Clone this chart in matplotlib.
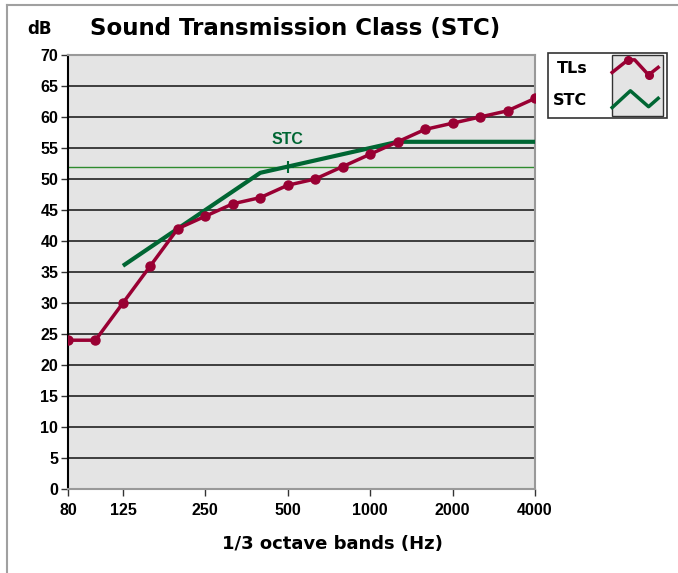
import numpy as np
import matplotlib
matplotlib.use("Agg")
import matplotlib.pyplot as plt
from matplotlib.lines import Line2D
from matplotlib.patches import Rectangle
from matplotlib.legend_handler import HandlerBase

plt.rcParams['font.family'] = ['Liberation Sans', 'DejaVu Sans']
heavy = ['DejaVu Sans']

# 1/3 octave bands
bands = ['80', '100', '125', '160', '200', '250', '315', '400', '500', '630',
         '800', '1000', '1250', '1600', '2000', '2500', '3150', '4000']
tick_labels = ['80', '125', '250', '500', '1000', '2000', '4000']
tl_values = [24, 24, 30, 36, 42, 44, 46, 47, 49, 50, 52, 54, 56, 58, 59, 60, 61, 63]
# STC contour from 125 Hz up
stc_bands = bands[2:]
stc_values = [36, 39, 42, 45, 48, 51, 52, 53, 54, 55, 56, 56, 56, 56, 56, 56]
stc_rating = 52

tl_color = '#990033'
stc_color = '#006633'
panel = '#e4e4e4'

x = np.arange(len(bands))
stc_x = np.array([bands.index(b) for b in stc_bands])

W, H = 678, 573
fig = plt.figure(figsize=(W / 100, H / 100), dpi=100)
ax = fig.add_axes([68/W, 1-489/H, (535-68)/W, (489-55)/H])
ax.set_facecolor(panel)

for yv in range(5, 70, 5):
    ax.axhline(yv, color='#222222', lw=1.2, zorder=1)

ax.axhline(stc_rating, color='#2e8b2e', lw=1, zorder=2)
ax.plot(stc_x, stc_values, color=stc_color, lw=3, zorder=3, solid_capstyle='butt')
ax.plot(x, tl_values, color=tl_color, lw=2.5, marker='o', ms=6.5, zorder=4)
i500 = bands.index('500')
ax.plot([i500], [stc_rating], marker='+', ms=9, mew=1.5, color=stc_color, zorder=5)
ax.text(i500, stc_rating + 3.2, 'STC', color=stc_color, fontsize=11.5,
        fontweight='bold', ha='center', va='bottom', zorder=5)

ax.set_xlim(0, len(bands) - 1)
ax.set_ylim(0, 70)
ax.set_yticks(range(0, 71, 5))
ax.set_xticks([bands.index(b) for b in tick_labels])
ax.set_xticklabels(tick_labels)
ax.tick_params(axis='both', labelsize=11.5, length=5, width=1, color='#333333')
ax.tick_params(axis='y', pad=2)
ax.tick_params(axis='x', pad=5)
for lbl in ax.get_xticklabels() + ax.get_yticklabels():
    lbl.set_fontweight('bold')
for side in ['top', 'right', 'bottom']:
    ax.spines[side].set_color('#999999')
    ax.spines[side].set_linewidth(1.5)
ax.spines['left'].set_color('black')
ax.spines['left'].set_linewidth(1.5)

fig.text(332/W, 1-544/H, '1/3 octave bands (Hz)', fontsize=13, fontweight='bold',
         family=heavy, ha='center', va='center')
fig.text(90/W, 1-29/H, 'Sound Transmission Class (STC)', fontsize=16.5,
         fontweight='heavy', family=heavy, va='center', ha='left')
fig.text(27/W, 1-29/H, 'dB', fontsize=12, fontweight='bold', family=heavy,
         va='center', ha='left')

# outer frame (top and left)
fig.add_artist(Line2D([7/W, 1], [1-5/H, 1-5/H], color='#a0a0a0', lw=1.5))
fig.add_artist(Line2D([7/W, 7/W], [0, 1-5/H], color='#a0a0a0', lw=1.5))

# legend box with grey swatch panel
fig.add_artist(Rectangle((548/W, 1-118/H), (667-548)/W, (118-53)/H, facecolor='white',
                         edgecolor='#333333', lw=1.2, transform=fig.transFigure, zorder=3))
fig.add_artist(Rectangle((612/W, 1-116/H), (663-612)/W, (116-55)/H, facecolor=panel,
                         edgecolor='#333333', lw=1, transform=fig.transFigure, zorder=3.5))


class ZigzagHandler(HandlerBase):
    def __init__(self, pts, marker_idx=None, **kw):
        super().__init__(**kw)
        self.pts = pts
        self.marker_idx = marker_idx or []

    def create_artists(self, legend, orig_handle, xdescent, ydescent,
                       width, height, fontsize, trans):
        px = np.array([p[0] for p in self.pts]) * width - xdescent
        py = np.array([p[1] for p in self.pts]) * height * 1.5 - ydescent - height * 0.25
        arts = [Line2D(px, py, color=orig_handle.get_color(), lw=2.5, transform=trans)]
        if self.marker_idx:
            arts.append(Line2D(px[self.marker_idx], py[self.marker_idx], ls='none',
                               marker='o', ms=5.5, color=orig_handle.get_color(),
                               transform=trans))
        return arts


h_tl = Line2D([], [], color=tl_color)
h_stc = Line2D([], [], color=stc_color)
leg = fig.legend([h_tl, h_stc], ['TLs', 'STC'],
                 bbox_to_anchor=(553/W, 1-61/H), loc='upper left',
                 markerfirst=False, handlelength=3.0, handletextpad=1.5,
                 labelspacing=1.05, fontsize=11.5, frameon=False,
                 borderpad=0, borderaxespad=0,
                 handler_map={h_tl: ZigzagHandler([(0.02, 0.2), (0.35, 0.95), (0.49, 0.95),
                                                   (0.78, 0.05), (0.98, 0.5)],
                                                  marker_idx=[1, 3]),
                              h_stc: ZigzagHandler([(0.02, 0.0), (0.4, 1.0), (0.78, 0.05),
                                                    (0.98, 0.55)])})
leg.set_zorder(4)
for t in leg.get_texts():
    t.set_fontweight('bold')
    t.set_family(heavy)

fig.savefig('out.png', dpi=100, facecolor='white')
